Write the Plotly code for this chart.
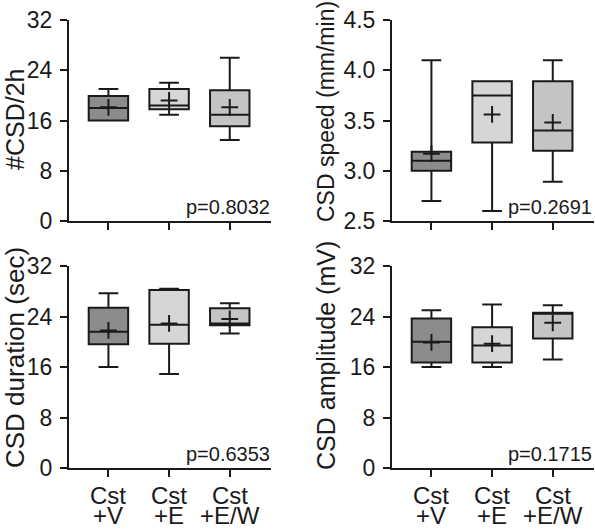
import plotly.graph_objects as go

W, H = 595, 529

# ---------------- data ----------------
positions = [0, 1, 2]
label_line1 = ["Cst", "Cst", "Cst"]
label_line2 = ["+V", "+E", "+E/W"]
box_colors = ["#8c8c8c", "#d6d6d6", "#c4c4c4"]

# #CSD/2h
count_low = [16.0, 16.9, 12.9]
count_q1 = [16.0, 17.8, 15.1]
count_med = [18.0, 18.4, 16.9]
count_q3 = [19.9, 21.0, 20.8]
count_high = [21.0, 22.0, 26.0]
count_mean = [18.1, 19.2, 18.1]

# CSD speed (mm/min)
speed_low = [2.70, 2.60, 2.89]
speed_q1 = [3.00, 3.28, 3.20]
speed_med = [3.10, 3.75, 3.40]
speed_q3 = [3.19, 3.89, 3.89]
speed_high = [4.10, 3.89, 4.10]
speed_mean = [3.17, 3.56, 3.48]

# CSD duration (sec)
dur_low = [16.0, 14.9, 21.3]
dur_q1 = [19.6, 19.7, 22.6]
dur_med = [21.6, 22.7, 22.9]
dur_q3 = [25.4, 28.2, 25.3]
dur_high = [27.7, 28.4, 26.1]
dur_mean = [21.8, 22.9, 23.6]

# CSD amplitude (mV)
amp_low = [16.0, 16.0, 17.2]
amp_q1 = [16.7, 16.7, 20.5]
amp_med = [20.0, 19.4, 24.5]
amp_q3 = [23.7, 22.3, 24.6]
amp_high = [25.0, 25.9, 25.8]
amp_mean = [19.9, 19.7, 23.0]

p_values = ["p=0.8032", "p=0.2691", "p=0.6353", "p=0.1715"]
y_titles = ["#CSD/2h", "CSD speed (mm/min)", "CSD duration (sec)", "CSD amplitude (mV)"]
ticks_32 = [0, 8, 16, 24, 32]
ticks_speed = [2.5, 3.0, 3.5, 4.0, 4.5]

# ---------------- layout helpers ----------------
FONT = "Liberation Sans, Arial, Helvetica, sans-serif"
INK = "#1a1a1a"

def px_x(x):
    return x / W

def px_y(y):
    return 1 - y / H

# pixel boxes: (left, right, top, bottom)
panel_px = [
    (69, 271, 20, 221),
    (392, 594, 20, 221),
    (69, 271, 266, 468),
    (392, 594, 266, 468),
]
title_px = [(15, 120, 25), (326, 112, 23), (15, 358, 26), (326, 356, 25)]

panels = [
    (count_low, count_q1, count_med, count_q3, count_high, count_mean, [0, 32], ticks_32, None),
    (speed_low, speed_q1, speed_med, speed_q3, speed_high, speed_mean, [2.5, 4.5], ticks_speed, ".1f"),
    (dur_low, dur_q1, dur_med, dur_q3, dur_high, dur_mean, [0, 32], ticks_32, None),
    (amp_low, amp_q1, amp_med, amp_q3, amp_high, amp_mean, [0, 32], ticks_32, None),
]

fig = go.Figure()
annotations = []
layout_axes = {}

for i, (lo, q1, med, q3, hi, mean, yr, tv, fmt) in enumerate(panels):
    n = "" if i == 0 else str(i + 1)
    xa, ya = "x" + n, "y" + n
    for j in positions:
        fig.add_trace(go.Box(
            x=[positions[j]], q1=[q1[j]], median=[med[j]], q3=[q3[j]],
            lowerfence=[lo[j]], upperfence=[hi[j]],
            width=0.65, whiskerwidth=0.5,
            fillcolor=box_colors[j],
            line=dict(color=INK, width=2),
            boxpoints=False, showlegend=False, hoverinfo="skip",
            xaxis=xa, yaxis=ya,
        ))
    fig.add_trace(go.Scatter(
        x=positions, y=mean, mode="markers",
        marker=dict(symbol="cross-thin", size=12, line=dict(color=INK, width=2)),
        showlegend=False, hoverinfo="skip", xaxis=xa, yaxis=ya,
    ))

    l, r, t, b = panel_px[i]
    layout_axes["xaxis" + n] = dict(
        domain=[px_x(l), px_x(r)], anchor=ya, range=[-0.65, 2.68],
        tickvals=positions, showticklabels=False, automargin=False,
        ticks="outside", ticklen=7, tickwidth=2, tickcolor=INK,
        showline=True, linewidth=2, linecolor=INK, showgrid=False, zeroline=False,
        fixedrange=True,
    )
    yax = dict(
        domain=[px_y(b), px_y(t)], anchor=xa, range=yr, tickvals=tv, automargin=False,
        ticks="outside", ticklen=7, tickwidth=2, tickcolor=INK,
        showline=True, linewidth=2, linecolor=INK, showgrid=False, zeroline=False,
        tickfont=dict(family=FONT, size=23, color=INK), ticklabelstandoff=3,
        fixedrange=True,
    )
    if fmt:
        yax["tickformat"] = fmt
    layout_axes["yaxis" + n] = yax

    # p-value text
    annotations.append(dict(
        text=p_values[i], xref="paper", yref="paper",
        x=px_x(min(r, 593)), y=px_y(b - 14), xanchor="right", yanchor="middle",
        showarrow=False, borderpad=0, font=dict(family=FONT, size=20, color=INK),
    ))
    # y title
    tx, ty, tsize = title_px[i]
    annotations.append(dict(
        text=y_titles[i], xref="paper", yref="paper",
        x=px_x(tx), y=px_y(ty), xanchor="center", yanchor="middle",
        textangle=-90, showarrow=False,
        font=dict(family=FONT, size=tsize, color=INK),
    ))
    # x category labels (bottom panels only)
    if i >= 2:
        for j in positions:
            annotations.append(dict(
                text=label_line1[j], xref=xa, yref="paper",
                x=positions[j], y=px_y(495), xanchor="center", yanchor="middle",
                showarrow=False, borderpad=0, font=dict(family=FONT, size=24, color=INK),
            ))
            annotations.append(dict(
                text=label_line2[j], xref=xa, yref="paper",
                x=positions[j], y=px_y(515), xanchor="center", yanchor="middle",
                showarrow=False, borderpad=0, font=dict(family=FONT, size=24, color=INK),
            ))

fig.update_layout(
    width=W, height=H,
    margin=dict(l=0, r=0, t=0, b=0, pad=0, autoexpand=False),
    paper_bgcolor="white", plot_bgcolor="white",
    font=dict(family=FONT, color=INK),
    annotations=annotations,
    showlegend=False,
    **layout_axes,
)

fig.write_html(
    "out.html",
    config={"displayModeBar": False},
    post_script="document.body.style.margin='0';document.body.style.overflow='hidden';",
)
